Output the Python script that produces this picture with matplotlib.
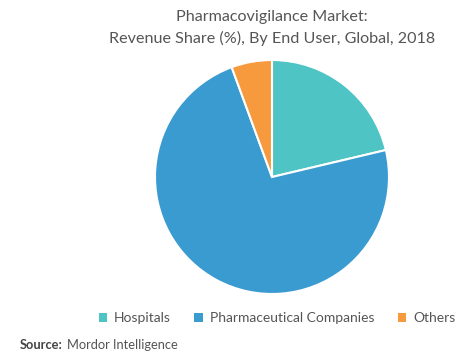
import matplotlib.pyplot as plt
from matplotlib.patches import Patch

plt.rcParams['font.family'] = ['Lato', 'DejaVu Sans']

labels = ['Hospitals', 'Pharmaceutical Companies', 'Others']
shares = [21.3, 73.1, 5.6]
colors = ['#4fc4c4', '#3a9bd0', '#f79a3e']

fig = plt.figure(figsize=(4.68, 3.59), dpi=100)
ax = fig.add_axes([0.0, 0.0, 1.0, 1.0])
ax.set_xlim(0, 468)
ax.set_ylim(359, 0)
ax.axis('off')

# pie in its own axes so the circle stays round
pax = fig.add_axes([155 / 468, 1 - 295 / 359, 234 / 468, 236 / 359])
pax.pie(shares, colors=colors, startangle=90, counterclock=False, radius=1,
        wedgeprops=dict(edgecolor='white', linewidth=1.5))
pax.set_xlim(-1.0, 1.0)
pax.set_ylim(-1.0, 1.0)
pax.set_aspect('equal')

ax.text(272, 17, 'Pharmacovigilance Market:', ha='center', va='center',
        fontsize=11.6, color='#555555')
ax.text(272, 38, 'Revenue Share (%), By End User, Global, 2018', ha='center',
        va='center', fontsize=11.6, color='#555555')

handles = [Patch(facecolor=c, edgecolor='none') for c in colors]
fig.legend(handles, labels, loc='center', bbox_to_anchor=(277 / 468, 1 - 318 / 359),
           ncol=3, frameon=False, fontsize=10, handlelength=0.6, handleheight=0.6,
           handletextpad=0.5, columnspacing=1.7, labelcolor='#555555')

ax.text(20, 345, 'Source:', ha='left', va='center', fontsize=9.3,
        fontweight='bold', color='#444444')
ax.text(67, 345, 'Mordor Intelligence', ha='left', va='center', fontsize=9.3,
        color='#555555')

fig.savefig('out.png', dpi=100)
